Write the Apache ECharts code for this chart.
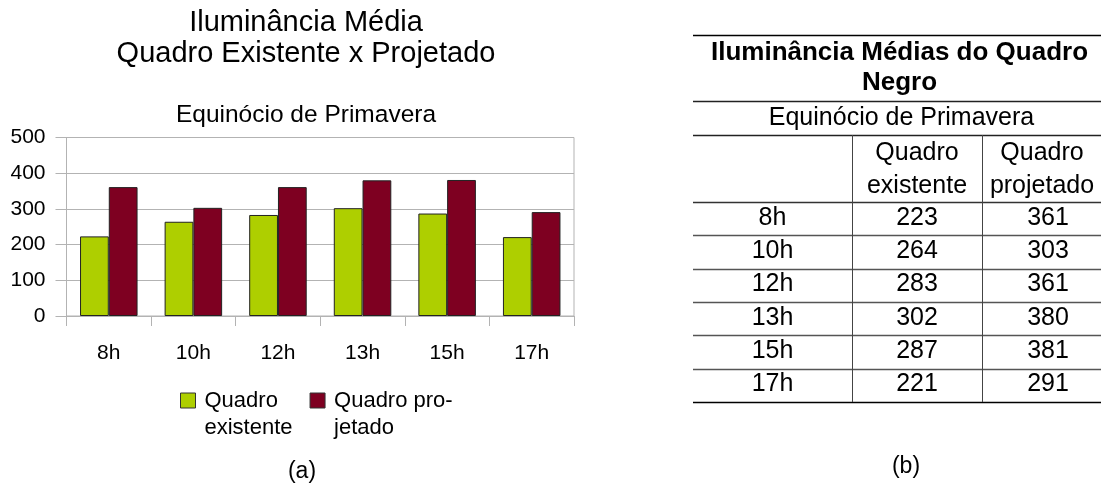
<!DOCTYPE html>
<html>
<head>
<meta charset="utf-8">
<script src="https://cdn.jsdelivr.net/npm/echarts@6/dist/echarts.min.js"></script>
<style>
  html, body { margin: 0; padding: 0; background: #fff; }
  #main { width: 1101px; height: 486px; }
</style>
</head>
<body>
<div id="main"></div>
<script>
// Horários das medições
const hours = ['8h', '10h', '12h', '13h', '15h', '17h'];
// Iluminância média (lux) em cada horário
const quadroExistente = [223, 264, 283, 302, 287, 221];
const quadroProjetado = [361, 303, 361, 380, 381, 291];
const seriesNames = ['Quadro existente', 'Quadro projetado'];
// rótulos da legenda quebrados em duas linhas; a linha vazia inicial
// mantém a primeira linha alinhada ao quadradinho
const legendText = ['\nQuadro\nexistente', '\nQuadro pro-\njetado'];
const yTicks = { min: 0, max: 500, interval: 100 };

const chartTitle = 'Iluminância Média\nQuadro Existente x Projetado';
const chartSubtitle = 'Equinócio de Primavera';
const tableTitle = 'Iluminância Médias do Quadro\nNegro';
const tableSubtitle = 'Equinócio de Primavera';
const tableHeaders = ['', 'Quadro\nexistente', 'Quadro\nprojetado'];
const panelLabels = ['(a)', '(b)'];

const FONT = '"Liberation Sans", Arial, sans-serif';
const GREEN = '#aecf00';
const MAROON = '#7e0021';
const GRIDC = '#b3b3b3';

// ---- tabela (b) ----
const tab = {
  left: 693, right: 1114,
  colX: [693, 852, 982, 1114],
  yTop: 35, yTitleBottom: 101, ySubBottom: 135, yHeadBottom: 202, rowH: 33.33
};
function px(v) { return Math.round(v) + 0.5; }
function hLine(y, color, w) {
  return { type: 'line', silent: true,
    shape: { x1: tab.left, y1: px(y), x2: 1101, y2: px(y) },
    style: { stroke: color, lineWidth: w } };
}
function cellText(text, x, y, opts) {
  return { type: 'text', silent: true,
    style: Object.assign({ text: text, x: x, y: y, align: 'center', verticalAlign: 'middle',
      fill: '#000', font: '25px ' + FONT, lineHeight: 33 }, opts || {}) };
}
const tableEls = [];
const yBottom = tab.yHeadBottom + tab.rowH * hours.length;
tableEls.push(hLine(tab.yTop, '#000', 1.5));
tableEls.push(hLine(tab.yTitleBottom, '#222', 1.3));
tableEls.push(hLine(tab.ySubBottom, '#222', 1.3));
tableEls.push(hLine(tab.yHeadBottom, '#333', 1.3));
for (let i = 1; i < hours.length; i++) {
  tableEls.push(hLine(tab.yHeadBottom + tab.rowH * i, '#555', 1.3));
}
tableEls.push(hLine(yBottom, '#000', 1.5));
[tab.colX[1], tab.colX[2]].forEach(function (x) {
  tableEls.push({ type: 'line', silent: true,
    shape: { x1: px(x), y1: tab.ySubBottom, x2: px(x), y2: yBottom },
    style: { stroke: '#444', lineWidth: 1 } });
});
const tableCenterX = (tab.left + tab.right) / 2;
tableEls.push(cellText(tableTitle, tableCenterX - 4, 68, { font: 'bold 26px ' + FONT, lineHeight: 30 }));
tableEls.push(cellText(tableSubtitle, tableCenterX - 2, 118));
const colCenters = [0, 1, 2].map(function (c) { return (tab.colX[c] + tab.colX[c + 1]) / 2; });
tableEls.push(cellText(tableHeaders[1], colCenters[1], 170));
tableEls.push(cellText(tableHeaders[2], colCenters[2] - 6, 170));
hours.forEach(function (h, i) {
  const cy = tab.yHeadBottom + tab.rowH * (i + 0.5) - 1;
  tableEls.push(cellText(h, colCenters[0], cy));
  tableEls.push(cellText(String(quadroExistente[i]), colCenters[1], cy));
  tableEls.push(cellText(String(quadroProjetado[i]), colCenters[2], cy));
});
tableEls.push(cellText(panelLabels[0], 302, 472, { font: '23px ' + FONT }));
tableEls.push(cellText(panelLabels[1], 906, 467, { font: '23px ' + FONT }));

const chart = echarts.init(document.getElementById('main'), null, { renderer: 'canvas' });
chart.setOption({
  backgroundColor: '#fff',
  animation: false,
  textStyle: { fontFamily: FONT, color: '#000' },
  title: [
    { text: chartTitle, left: 306, top: 7, padding: 0, textAlign: 'center',
      textStyle: { fontSize: 29, fontWeight: 'normal', lineHeight: 31, color: '#000', fontFamily: FONT } },
    { text: chartSubtitle, left: 306, top: 103, padding: 0, textAlign: 'center',
      textStyle: { fontSize: 24.5, fontWeight: 'normal', lineHeight: 25, color: '#000', fontFamily: FONT } }
  ],
  grid: { left: 66.5, right: 527, top: 137.5, bottom: 170, show: true,
    borderColor: GRIDC, borderWidth: 1, containLabel: false },
  legend: {
    data: seriesNames, left: 180, top: 360, padding: 0, orient: 'horizontal',
    itemWidth: 15, itemHeight: 15, itemGap: 17, icon: 'rect',
    itemStyle: { borderColor: '#333', borderWidth: 1 },
    formatter: function (name) { return legendText[seriesNames.indexOf(name)]; },
    textStyle: { fontSize: 22, lineHeight: 27, color: '#000', fontFamily: FONT, padding: [0, 0, 0, 4] }
  },
  xAxis: {
    type: 'category', data: hours,
    axisLine: { lineStyle: { color: GRIDC, width: 1 } },
    axisTick: { show: true, length: 10, alignWithLabel: false, lineStyle: { color: GRIDC } },
    axisLabel: { fontSize: 21, color: '#000', margin: 27, fontFamily: FONT },
    splitLine: { show: false }
  },
  yAxis: {
    type: 'value', min: yTicks.min, max: yTicks.max, interval: yTicks.interval,
    axisLine: { show: true, lineStyle: { color: GRIDC, width: 1 } },
    axisTick: { show: true, length: 11, lineStyle: { color: GRIDC } },
    axisLabel: { fontSize: 21, color: '#000', margin: 21, fontFamily: FONT },
    splitLine: { show: true, lineStyle: { color: GRIDC, width: 1 } }
  },
  series: [
    { name: seriesNames[0], type: 'bar', data: quadroExistente, barGap: '0%', barCategoryGap: '32%',
      itemStyle: { color: GREEN, borderColor: '#222', borderWidth: 1 } },
    { name: seriesNames[1], type: 'bar', data: quadroProjetado, barGap: '0%', barCategoryGap: '32%',
      itemStyle: { color: MAROON, borderColor: '#222', borderWidth: 1 } }
  ],
  graphic: tableEls
});
</script>
</body>
</html>
